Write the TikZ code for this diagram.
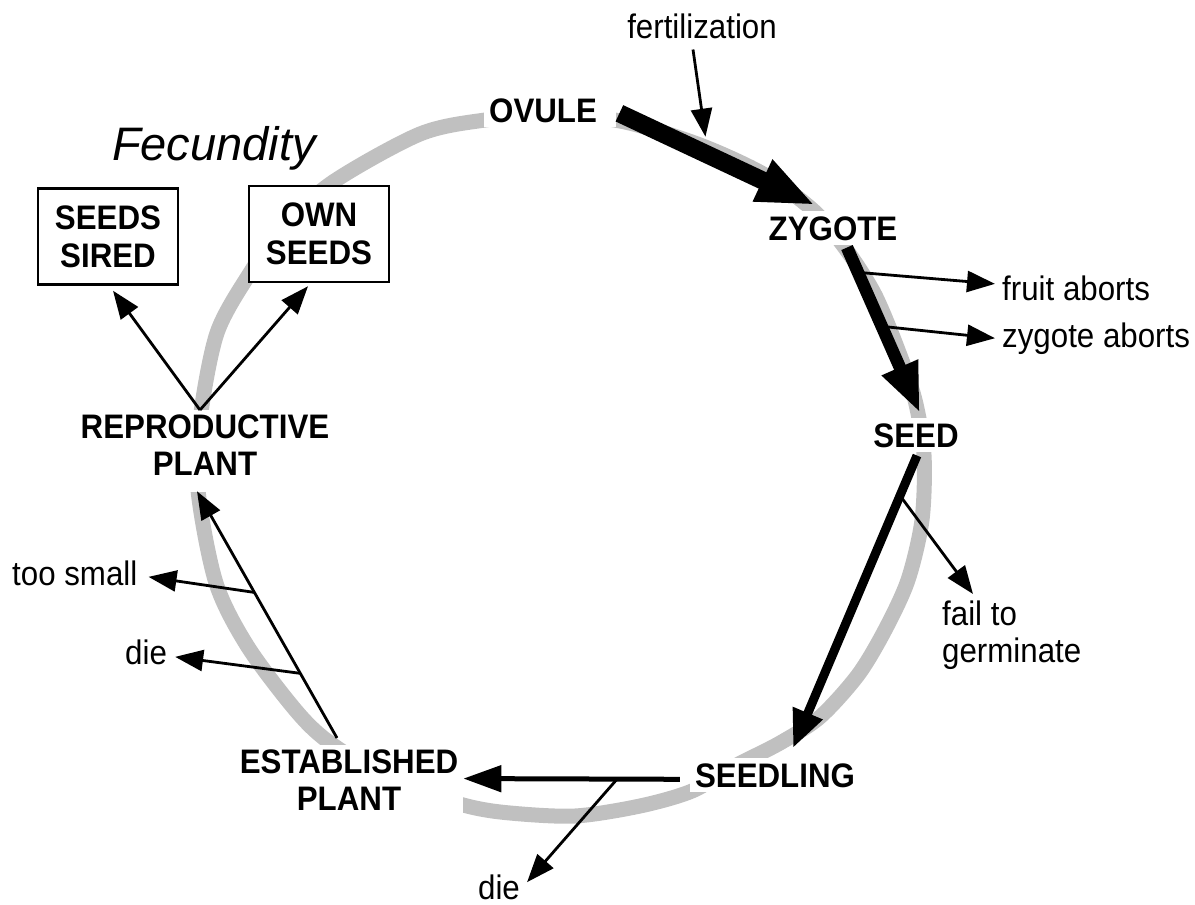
\documentclass[tikz,border=0pt]{standalone}
\usepackage{fontspec}
\setmainfont{Liberation Sans}[FakeStretch=0.92]
\newfontfamily\fecfont{Liberation Sans}
\usetikzlibrary{arrows.meta,calc}
\definecolor{ringgray}{RGB}{192,192,192}
\begin{document}
\begin{tikzpicture}[x=1pt,y=-1pt,
  lbl/.style={font={\fontsize{34}{37}\selectfont\bfseries}, fill=white, inner sep=5pt, align=center},
  txt/.style={font={\fontsize{34}{37}\selectfont}, inner sep=3pt, align=left},
  boxlbl/.style={font={\fontsize{34}{38}\selectfont\bfseries}, draw, line width=2.5pt, fill=white,
                 minimum width=140pt, minimum height=96pt, inner sep=0pt, align=center},
  ring/.style={line width=15pt, draw=ringgray},
  arrA/.style={line width=18pt, -{Triangle[length=58pt,width=42pt]}},
  arrB/.style={line width=12.5pt, -{Triangle[length=50pt,width=36pt]}},
  arrC/.style={line width=9pt, -{Triangle[length=38pt,width=30pt]}},
  arrD/.style={line width=5pt, -{Triangle[length=38pt,width=26pt]}},
  thinA/.style={line width=2.8pt, -{Triangle[length=28pt,width=21pt]}}
]
\useasboundingbox (0,0) rectangle (1195,905);

% grey life-cycle ring
\draw[ring] plot[smooth cycle] coordinates {
  (485,120) (555,114) (625,122) (700,145) (765,175) (815,212) (848,252)
  (875,295) (898,350) (915,400) (924,455) (922,520) (908,580) (885,630)
  (858,675) (820,717) (780,743) (735,766) (692,791) (640,806) (575,816)
  (510,813) (467,806) (400,785) (333,745) (298,713) (248,647) (216,583)
  (198,490) (200,420) (217,333) (250,273) (283,227) (333,182) (420,134)};

% stage labels
\node[lbl, anchor=base west, text width=122pt, align=left] (ovule) at (484,122) {OVULE};
\node[lbl, anchor=base] (zygote) at (833,240) {ZYGOTE};
\node[lbl, anchor=base] (seed) at (916,447) {SEED};
\node[lbl, anchor=base] (seedling) at (775,787) {SEEDLING};
\node[lbl, anchor=north] (established) at (349,745) {ESTABLISHED\\PLANT};
\node[lbl, anchor=north] (reproductive) at (205,410) {REPRODUCTIVE\\PLANT\strut};

% fecundity
\node[font={\fecfont\fontsize{47}{50}\selectfont\itshape}, anchor=base] (fec) at (214,160) {Fecundity};
\node[boxlbl] (sired) at (108,236.5) {SEEDS\\SIRED};
\node[boxlbl] (own) at (319,234) {OWN\\SEEDS};

% outcome texts
\node[txt, anchor=base] (fert) at (702,38) {fertilization};
\node[txt, anchor=base west] (fruit) at (999,300) {fruit aborts};
\node[txt, anchor=base west] (zab) at (999,347) {zygote aborts};
\node[txt, anchor=north west] (fail) at (939,598) {fail to\\germinate};
\node[txt, anchor=base] (die1) at (499,899) {die};
\node[txt, anchor=base west] (small) at (9,585) {too small};
\node[txt, anchor=base west] (die2) at (122,664) {die};

% main transitions
\coordinate (o1) at ($(ovule.east)+(3,3)$);
\coordinate (z0) at ($(zygote.north)+(-18,-6)$);
\draw[arrA] (o1) -- (z0);
\coordinate (z1) at ($(zygote.south)+(14,2)$);
\coordinate (s0) at ($(seed.north)+(4,-5)$);
\draw[arrB] (z1) -- (s0);
\coordinate (s1) at ($(seed.south)+(1,3)$);
\coordinate (g0) at ($(seedling.north)+(18,-10)$);
\draw[arrC] (s1) -- (g0);
\coordinate (g1) at ($(seedling.west)+(-10,4)$);
\coordinate (e0) at ($(established.east)+(0,-2)$);
\draw[arrD] (g1) -- (e0);
\coordinate (e1) at ($(established.north)+(-12,-7)$);
\coordinate (r0) at ($(reproductive.south)+(-8,-1)$);
\draw[thinA] (e1) -- (r0);

% losses
\draw[thinA] ($(fert.south)+(-9,8)$) -- ($($(o1)!0.44!(z0)$)+(0,-17)$);
\draw[thinA] ($(z1)!0.15!(s0)$) -- ($(fruit.west)+(-4,-4)$);
\draw[thinA] ($(z1)!0.476!(s0)$) -- ($(zab.west)+(-4,0)$);
\draw[thinA] ($(s1)!0.137!(g0)$) -- ($(fail.north west)+(34,-4)$);
\draw[thinA] ($(g1)!0.29!(e0)$) -- ($(die1.north east)+(4,11)$);
\draw[thinA] ($(e1)!0.59!(r0)$) -- ($(small.east)+(8,4)$);
\draw[thinA] ($(e1)!0.262!(r0)$) -- ($(die2.east)+(5,5)$);

% fecundity
\coordinate (rt) at ($(reproductive.north)+(-5,0)$);
\draw[thinA] (rt) -- ($(sired.south)+(5,5)$);
\draw[thinA] (rt) -- ($(own.south)+(-11,3)$);
\end{tikzpicture}
\end{document}
